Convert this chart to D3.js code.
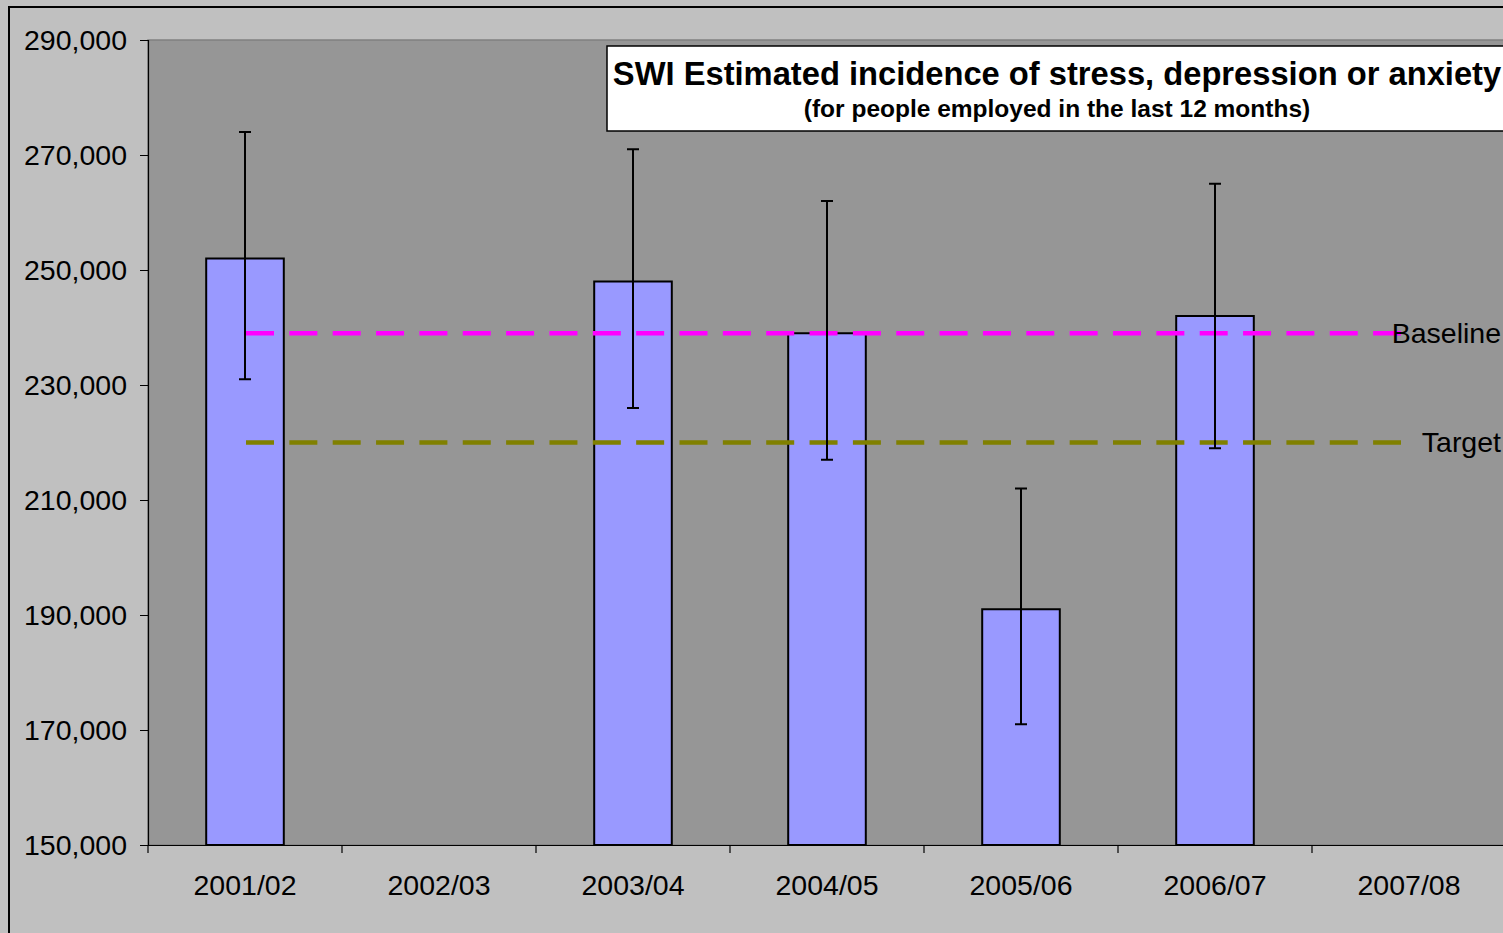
<!DOCTYPE html>
<html><head><meta charset="utf-8">
<script src="https://cdn.jsdelivr.net/npm/d3@7/dist/d3.min.js"></script>
<style>html,body{margin:0;padding:0;background:#c0c0c0;overflow:hidden;}svg{display:block;font-family:"Liberation Sans",Arial,sans-serif;}</style>
</head><body><svg id="c" width="1503" height="933"></svg>
<script>
const categories = ["2001/02","2002/03","2003/04","2004/05","2005/06","2006/07","2007/08"];
const values = [252000, null, 248000, 239000, 191000, 242000, null];
const errUpper = [274000, null, 271000, 262000, 212000, 265000, null];
const errLower = [231000, null, 226000, 217000, 171000, 219000, null];
const baseline = 239000;
const target = 220000;
const yTicks = [150000,170000,190000,210000,230000,250000,270000,290000];
const titleText = "SWI Estimated incidence of stress, depression or anxiety";
const subtitleText = "(for people employed in the last 12 months)";

(function(){
const svg = d3.select("#c");
const W = 1503, H = 933;
const pL = 148, pR = 1506, pT = 40, pB = 845;
const FS = 28.5;

svg.append("rect").attr("x",0).attr("y",0).attr("width",W).attr("height",H).attr("fill","#c0c0c0");
svg.append("rect").attr("x",9).attr("y",7).attr("width",W+20).attr("height",H+20)
  .attr("fill","none").attr("stroke","#000").attr("stroke-width",2);

const x = d3.scaleBand().domain(categories).range([pL,pR]).paddingInner(0).paddingOuter(0);
const y = d3.scaleLinear().domain([150000,290000]).range([pB,pT]);

svg.append("rect").attr("x",pL).attr("y",pT).attr("width",pR-pL).attr("height",pB-pT)
  .attr("fill","#969696").attr("stroke","#808080").attr("stroke-width",1.5);

const bw = x.bandwidth()*0.4;
const data = categories.map((c,i)=>({c, v:values[i], hi:errUpper[i], lo:errLower[i]})).filter(d=>d.v!=null);
svg.append("g").selectAll("rect").data(data).join("rect")
  .attr("x",d=>x(d.c)+x.bandwidth()/2-bw/2).attr("y",d=>y(d.v))
  .attr("width",bw).attr("height",d=>y(150000)-y(d.v))
  .attr("fill","#9999ff").attr("stroke","#000").attr("stroke-width",2);

const cx0 = x(categories[0])+x.bandwidth()/2 + 1;
const cx1 = x(categories[categories.length-1])+x.bandwidth()/2 - 8;
svg.append("line").attr("x1",cx0).attr("x2",cx1).attr("y1",y(target)).attr("y2",y(target))
  .attr("stroke","#808000").attr("stroke-width",4.5).attr("stroke-dasharray","28,15.35");
svg.append("line").attr("x1",cx0).attr("x2",cx1).attr("y1",y(baseline)).attr("y2",y(baseline))
  .attr("stroke","#ff00ff").attr("stroke-width",4.5).attr("stroke-dasharray","28,15.35");

const eg = svg.append("g").attr("stroke","#000").attr("stroke-width",2);
data.forEach(d=>{
  const cx = x(d.c)+x.bandwidth()/2;
  eg.append("line").attr("x1",cx).attr("x2",cx).attr("y1",y(d.hi)).attr("y2",y(d.lo));
  eg.append("line").attr("x1",cx-6).attr("x2",cx+6).attr("y1",y(d.hi)).attr("y2",y(d.hi));
  eg.append("line").attr("x1",cx-6).attr("x2",cx+6).attr("y1",y(d.lo)).attr("y2",y(d.lo));
});

const fmt = d3.format(",");
const yAxis = svg.append("g").attr("transform",`translate(${pL},0)`)
  .call(d3.axisLeft(y).tickValues(yTicks).tickFormat(fmt).tickSize(8).tickPadding(13));
yAxis.select(".domain").attr("stroke","#000").attr("stroke-width",1.2);
yAxis.selectAll("line").attr("stroke","#000");
yAxis.selectAll("text").attr("font-size",FS).attr("fill","#000").attr("font-family","Liberation Sans, Arial, sans-serif");

const xAxis = svg.append("g").attr("transform",`translate(0,${pB})`)
  .call(d3.axisBottom(x).tickSize(0).tickPadding(30));
xAxis.select(".domain").attr("stroke","#000").attr("stroke-width",1.2);
xAxis.selectAll("text").attr("font-size",FS).attr("fill","#000").attr("font-family","Liberation Sans, Arial, sans-serif");
svg.append("g").selectAll("line").data(categories).join("line")
  .attr("x1",d=>x(d)).attr("x2",d=>x(d)).attr("y1",pB).attr("y2",pB+8)
  .attr("stroke","#000").attr("stroke-width",1.2);

svg.append("text").attr("x",1501).attr("y",y(baseline)).attr("dy","0.35em").attr("text-anchor","end")
  .attr("font-size",FS).text("Baseline");
svg.append("text").attr("x",1501).attr("y",y(target)).attr("dy","0.35em").attr("text-anchor","end")
  .attr("font-size",FS).text("Target");

svg.append("rect").attr("x",607).attr("y",46).attr("width",920).attr("height",85)
  .attr("fill","#fff").attr("stroke","#000").attr("stroke-width",1.5);
svg.append("text").attr("x",1057).attr("y",85).attr("text-anchor","middle")
  .attr("font-size",32.7).attr("font-weight","bold").text(titleText);
svg.append("text").attr("x",1057).attr("y",117).attr("text-anchor","middle")
  .attr("font-size",24.5).attr("font-weight","bold").text(subtitleText);
})();
</script></body></html>
